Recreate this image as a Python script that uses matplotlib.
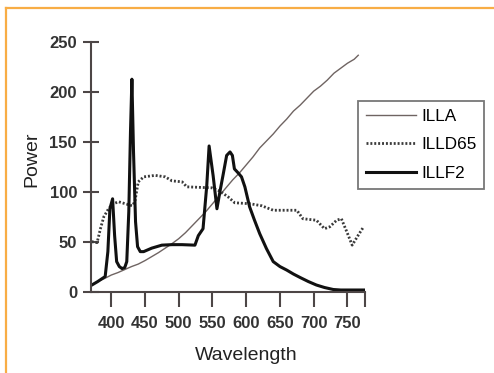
import matplotlib
matplotlib.use('Agg')
import matplotlib.pyplot as plt
from matplotlib import font_manager
from matplotlib.lines import Line2D

# ---------------- data ----------------
illa_wl = [370, 380, 390, 400, 410, 420, 430, 440, 450, 460, 470, 480, 490, 500,
           510, 520, 530, 540, 550, 560, 570, 580, 590, 600, 610, 620, 630, 640,
           650, 660, 670, 680, 690, 700, 710, 720, 730, 740, 750, 760, 766]
illa_val = [6.5, 10, 13, 16.5, 19, 22, 25, 27.5, 31, 35, 39, 43.5, 48, 53,
            59, 66, 73, 80, 88, 96, 104, 112, 119, 127, 135, 144, 151, 158,
            166, 173, 181, 187, 194, 201, 206, 212, 219, 224, 229, 233, 237]

illd65_wl = [371, 379, 384, 389, 396, 403, 411, 421, 431, 435, 440, 448, 465, 480,
             490, 505, 512, 530, 549, 560, 573, 583, 595, 606, 623, 640, 665, 675,
             684, 704, 716, 724, 734, 741, 749, 757, 766, 774]
illd65_val = [50, 49, 63, 75, 83, 88, 90, 88, 86, 90, 110, 115, 116.5, 115,
              111, 110, 105, 104.5, 104, 101, 95, 89, 88.5, 88, 86, 81.5, 81.5, 81.5,
              73, 71.5, 63, 65, 71.5, 73, 60, 46.5, 56.5, 65]

illf2_wl = [370, 380, 391, 395, 398, 402, 405, 408, 412, 416, 420, 423, 426, 428.5,
            430.6, 433, 436, 439, 443, 448, 460, 475, 490, 505, 524, 529, 536, 541.5,
            545, 551, 556.6, 561, 566, 571, 576, 579.5, 582.5, 588, 593, 598, 605,
            612, 620, 630, 640, 650, 660, 670, 680, 692, 704, 716, 729, 740, 750,
            760, 776]
illf2_val = [6, 10, 15, 40, 83, 93, 56, 30, 25, 23, 24, 30, 80, 160,
             213, 140, 70, 45, 40, 40, 43.5, 46.5, 47, 47, 46.5, 56, 63, 106,
             146, 116, 83, 100, 118, 136.5, 140, 136.5, 123, 119, 115, 105, 85,
             72, 58, 43, 30, 25, 21.5, 17.5, 14, 10, 6.5, 4, 2, 1.5, 1.5,
             1.5, 1.5]

series_names = ['ILLA', 'ILLD65', 'ILLF2']
x_ticks = [400, 450, 500, 550, 600, 650, 700, 750]
y_ticks = [0, 50, 100, 150, 200, 250]
x_label = 'Wavelength'
y_label = 'Power'

# ---------------- fonts ----------------
names = {f.name for f in font_manager.fontManager.ttflist}
BASE = 'Liberation Sans' if 'Liberation Sans' in names else 'DejaVu Sans'
NARROW = 'Liberation Sans Narrow' if 'Liberation Sans Narrow' in names else None
LEG_FAMILY = NARROW if NARROW else BASE
LEG_SIZE = 13.5 if NARROW else 12.3

W, H = 494, 373
fig = plt.figure(figsize=(W / 100, H / 100), dpi=100)
fig.patch.set_facecolor('white')

ax = fig.add_axes([91 / W, 1 - 291.5 / H, (365 - 91) / W, (291.5 - 42.3) / H])
ax.set_facecolor('none')

l1, = ax.plot(illa_wl, illa_val, color='#6f6462', lw=1.0, label=series_names[0])
l2, = ax.plot(illd65_wl, illd65_val, color='#3a3a3a', lw=2.0,
              linestyle=(0, (0.7, 0.7)), label=series_names[1])
l3, = ax.plot(illf2_wl, illf2_val, color='#111111', lw=2.2,
              solid_joinstyle='round', label=series_names[2])

ax.set_xlim(370, 776)
ax.set_ylim(0, 250)

axis_col = '#4d4646'
for s in ['top', 'right']:
    ax.spines[s].set_visible(False)
for s in ['left', 'bottom']:
    ax.spines[s].set_color(axis_col)
    ax.spines[s].set_linewidth(1.5)

ax.set_xticks(x_ticks + [776], [str(t) for t in x_ticks] + [''])
ax.set_yticks(y_ticks, [str(t) for t in y_ticks])
ax.tick_params(axis='x', direction='out', length=11, width=1.5, color=axis_col,
               pad=7, labelsize=12, labelcolor='#333333')
ax.tick_params(axis='y', direction='inout', length=12, width=1.5, color=axis_col,
               pad=4, labelsize=12, labelcolor='#333333')
for lab in ax.get_xticklabels() + ax.get_yticklabels():
    lab.set_fontfamily(BASE)
    lab.set_fontweight('bold')

fig.text(246 / W, 1 - 360 / H, x_label, ha='center', va='baseline',
         fontsize=14, family=BASE, color='#222222')
fig.text(32 / W, 1 - 159.5 / H, y_label, ha='center', va='center', rotation=90,
         fontsize=14, family=BASE, color='#222222')

leg = fig.legend(handles=[l1, l2, l3], loc='upper left',
                 bbox_to_anchor=(358 / W, 1 - 101 / H), bbox_transform=fig.transFigure,
                 borderaxespad=0, frameon=True, fancybox=False, shadow=False,
                 prop={'family': LEG_FAMILY, 'size': LEG_SIZE},
                 handlelength=2.95, handletextpad=0.3, labelspacing=0.8,
                 borderpad=0.45)
leg.get_frame().set_edgecolor('#555555')
leg.get_frame().set_linewidth(1.3)
leg.get_frame().set_facecolor('white')

orange = '#f8ad45'
fig.add_artist(Line2D([6 / W, 1], [1 - 8 / H, 1 - 8 / H], transform=fig.transFigure,
                      color=orange, lw=1.6))
fig.add_artist(Line2D([6 / W, 6 / W], [0, 1 - 8 / H], transform=fig.transFigure,
                      color=orange, lw=1.6))

fig.savefig('out.png', dpi=100)
